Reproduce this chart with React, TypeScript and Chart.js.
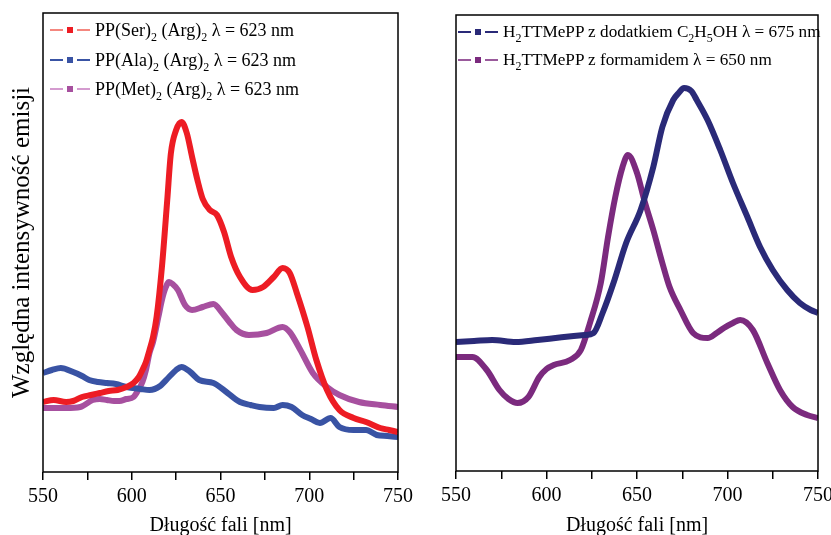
import React, { useEffect, useRef } from "react";
import { Chart, registerables } from "chart.js";

Chart.register(...registerables);

// ---------- Left panel data (arbitrary intensity units) ----------
const serNm = [550, 556, 563, 567, 572, 577, 582, 587, 592, 597, 601, 604, 606, 608, 610, 612, 614, 617, 620, 622, 625, 628, 631, 634, 637, 640, 644, 648, 652, 656, 661, 668, 674, 680, 685, 689, 693, 699, 704, 710, 717, 725, 732, 740, 745, 750];
const serVal = [70, 72, 70, 71, 75, 77, 79, 81, 82, 85, 89, 95, 102, 110, 122, 135, 155, 205, 272, 318, 342, 350, 339, 315, 292, 273, 262, 257, 240, 215, 195, 182, 185, 195, 204, 199, 179, 145, 112, 82, 62, 54, 50, 44, 42, 40];

const alaNm = [550, 555, 560, 567, 572, 576, 581, 586, 591, 597, 605, 610, 616, 621, 625, 628, 633, 638, 646, 654, 661, 667, 672, 680, 685, 690, 696, 701, 706, 712, 717, 725, 732, 738, 744, 750];
const alaVal = [99, 102, 104, 100, 96, 92, 90, 89, 88, 85, 83, 82, 86, 95, 102, 105, 100, 92, 89, 79, 70, 67, 65, 64, 67, 65, 57, 53, 49, 54, 45, 42, 42, 37, 36, 35];

const metNm = [550, 556, 563, 571, 578, 582, 586, 590, 593, 597, 601, 604, 606, 608, 610, 612, 615, 617, 619, 621, 623, 626, 630, 634, 640, 646, 651, 655, 659, 666, 676, 685, 689, 695, 702, 710, 717, 728, 740, 750];
const metVal = [64, 64, 64, 65, 72, 73, 72, 71, 71, 73, 75, 83, 90, 102, 119, 130, 155, 172, 184, 190, 188, 182, 167, 162, 165, 168, 159, 150, 142, 137, 139, 145, 140, 122, 99, 85, 77, 70, 67, 65];

// ---------- Right panel data ----------
const etNm = [550, 560, 570, 583, 595, 605, 615, 621, 626, 631, 637, 644, 652, 659, 664, 670, 673, 676, 680, 683, 689, 696, 703, 711, 718, 725, 733, 740, 746, 750];
const etVal = [129, 130, 131, 129, 131, 133, 135, 136, 138, 158, 188, 228, 261, 304, 344, 371, 378, 383, 380, 371, 351, 321, 288, 254, 224, 201, 181, 168, 161, 158];

const formNm = [550, 559, 567, 574, 579, 584, 590, 596, 600, 604, 613, 619, 624, 630, 634, 638, 642, 645, 650, 654, 659, 664, 668, 674, 681, 689, 694, 698, 703, 707, 714, 722, 729, 736, 744, 750];
const formVal = [114, 114, 101, 81, 72, 68, 74, 94, 102, 106, 111, 121, 148, 188, 234, 274, 304, 316, 298, 271, 241, 208, 184, 161, 138, 133, 138, 143, 148, 151, 141, 108, 81, 64, 56, 53];

// ---------- Axis ----------
const xMin = 550;
const xMax = 750;
const xStep = 25;
const xLabelStep = 50;
const leftYMax = 459;
const rightYMax = 456;

const FONT = "'Liberation Serif', 'Times New Roman', serif";

const pts = (xs: number[], ys: number[]) => xs.map((x, i) => ({ x, y: ys[i] }));

const boxPlugin = {
  id: "boxFrame",
  afterDraw(chart: any) {
    const { ctx, chartArea: a } = chart;
    ctx.save();
    ctx.strokeStyle = "#000";
    ctx.lineWidth = 1.5;
    ctx.strokeRect(a.left, a.top, a.right - a.left, a.bottom - a.top);
    ctx.restore();
  },
};

function makeOptions(opts: {
  yMax: number;
  yTitle: boolean;
  top: number;
  right: number;
  yWidth: number;
  xHeight: number;
}) {
  return {
    animation: false,
    responsive: false,
    maintainAspectRatio: false,
    layout: { padding: { top: opts.top, right: opts.right, left: 0, bottom: 0 } },
    plugins: { legend: { display: false }, tooltip: { enabled: false } },
    elements: {
      point: { radius: 0, hoverRadius: 0 },
      line: { borderWidth: 6, cubicInterpolationMode: "monotone", borderJoinStyle: "round", borderCapStyle: "butt" },
    },
    scales: {
      x: {
        type: "linear",
        min: xMin,
        max: xMax,
        afterFit: (s: any) => {
          s.height = opts.xHeight;
        },
        ticks: {
          stepSize: xStep,
          autoSkip: false,
          maxRotation: 0,
          color: "#000",
          padding: 5,
          font: { family: FONT, size: 20 },
          callback: (v: any) => (Number(v) % xLabelStep === 0 ? String(v) : ""),
        },
        grid: { drawOnChartArea: false, drawTicks: true, tickLength: 8, color: "#000", lineWidth: 1.5 },
        border: { display: false },
        title: {
          display: true,
          text: "Długość fali [nm]",
          color: "#000",
          font: { family: FONT, size: 20 },
          padding: { top: 7, bottom: -3 },
        },
      },
      y: {
        type: "linear",
        min: 0,
        max: opts.yMax,
        afterFit: (s: any) => {
          s.width = opts.yWidth;
        },
        ticks: { display: false },
        grid: { display: false },
        border: { display: false },
        title: {
          display: opts.yTitle,
          text: "Względna intensywność emisji",
          color: "#000",
          font: { family: FONT, size: 25 },
          padding: { top: 7, bottom: 0 },
        },
      },
    },
  };
}

const RED = "#ED1C24";
const BLUE = "#3953A4";
const MAGENTA = "#A7509F";
const NAVY = "#2A2A78";
const PURPLE = "#7B2A7E";

function LegendRow(props: { color: string; lineColor: string; left: number; top: number; size: number; children: any }) {
  const line = { display: "inline-block", width: 13, height: 1.5, background: props.lineColor };
  return (
    <div
      style={{
        position: "absolute",
        left: props.left,
        top: props.top,
        height: 20,
        display: "flex",
        alignItems: "center",
        fontFamily: FONT,
        fontSize: props.size,
        color: "#000",
        whiteSpace: "nowrap",
        lineHeight: "20px",
      }}
    >
      <span style={line} />
      <span style={{ display: "inline-block", width: 6, height: 6, background: props.color, margin: "0 4px" }} />
      <span style={line} />
      <span style={{ marginLeft: 5 }}>{props.children}</span>
    </div>
  );
}

const subStyle: any = { fontSize: 12, position: "relative", top: 5, verticalAlign: "baseline", lineHeight: 0 };
const S = (t: string) => <span style={subStyle}>{t}</span>;

export default function App() {
  const leftRef = useRef<HTMLCanvasElement | null>(null);
  const rightRef = useRef<HTMLCanvasElement | null>(null);

  useEffect(() => {
    const c1 = new Chart(leftRef.current as HTMLCanvasElement, {
      type: "line",
      data: {
        datasets: [
          { label: "PP(Ser)2 (Arg)2 λ = 623 nm", data: pts(serNm, serVal), borderColor: RED, backgroundColor: RED },
          { label: "PP(Ala)2 (Arg)2 λ = 623 nm", data: pts(alaNm, alaVal), borderColor: BLUE, backgroundColor: BLUE },
          { label: "PP(Met)2 (Arg)2 λ = 623 nm", data: pts(metNm, metVal), borderColor: MAGENTA, backgroundColor: MAGENTA },
        ],
      },
      options: makeOptions({ yMax: leftYMax, yTitle: true, top: 13, right: 27, yWidth: 43, xHeight: 63 }) as any,
      plugins: [boxPlugin],
    });
    const c2 = new Chart(rightRef.current as HTMLCanvasElement, {
      type: "line",
      data: {
        datasets: [
          { label: "H2TTMePP z dodatkiem C2H5OH λ = 675 nm", data: pts(etNm, etVal), borderColor: NAVY, backgroundColor: NAVY },
          { label: "H2TTMePP z formamidem λ = 650 nm", data: pts(formNm, formVal), borderColor: PURPLE, backgroundColor: PURPLE },
        ],
      },
      options: makeOptions({ yMax: rightYMax, yTitle: false, top: 15, right: 27, yWidth: 41, xHeight: 64 }) as any,
      plugins: [boxPlugin],
    });
    return () => {
      c1.destroy();
      c2.destroy();
    };
  }, []);

  return (
    <div style={{ position: "fixed", left: 0, top: 0, width: 831, height: 535, background: "#fff", overflow: "hidden" }}>
      <canvas ref={leftRef} width={425} height={535} style={{ position: "absolute", left: 0, top: 0, width: 425, height: 535 }} />
      <canvas ref={rightRef} width={430} height={535} style={{ position: "absolute", left: 415, top: 0, width: 430, height: 535 }} />

      <LegendRow color={RED} lineColor="#F4877F" left={50} top={20} size={18}>
        PP(Ser){S("2")} (Arg){S("2")} λ = 623 nm
      </LegendRow>
      <LegendRow color={BLUE} lineColor={BLUE} left={50} top={50} size={18}>
        PP(Ala){S("2")} (Arg){S("2")} λ = 623 nm
      </LegendRow>
      <LegendRow color={MAGENTA} lineColor="#D49BCF" left={50} top={79} size={18}>
        PP(Met){S("2")} (Arg){S("2")} λ = 623 nm
      </LegendRow>

      <LegendRow color={NAVY} lineColor={NAVY} left={458} top={22} size={17.2}>
        H{S("2")}TTMePP z dodatkiem C{S("2")}H{S("5")}OH λ = 675 nm
      </LegendRow>
      <LegendRow color={PURPLE} lineColor="#9A5A9C" left={458} top={50} size={17.2}>
        H{S("2")}TTMePP z formamidem λ = 650 nm
      </LegendRow>
    </div>
  );
}
